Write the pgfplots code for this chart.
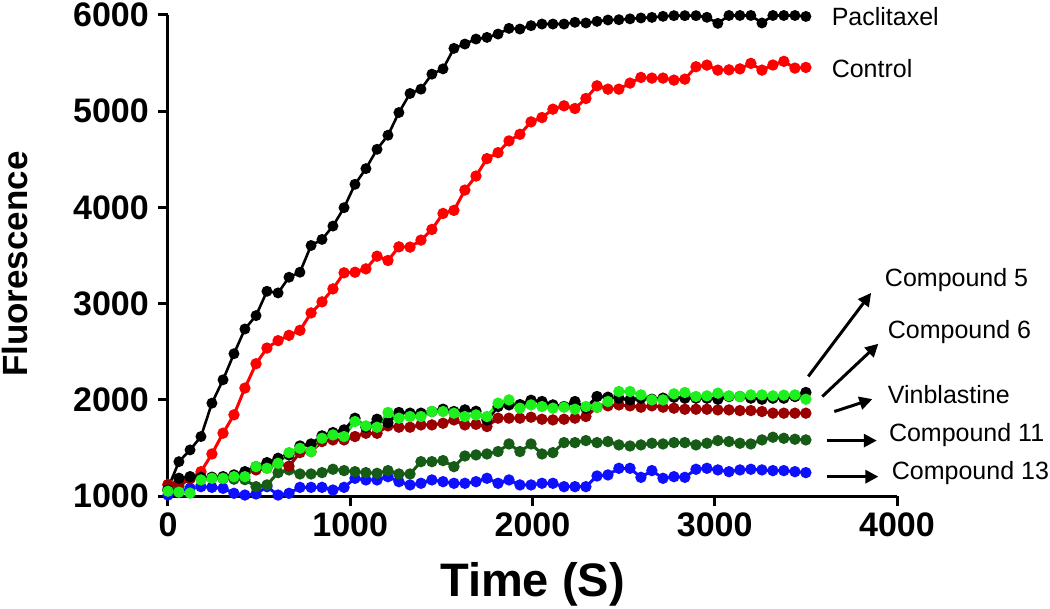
\documentclass[border=0pt]{standalone}
\usepackage{fontspec}
\setmainfont{Liberation Sans}
\usepackage{pgfplots}
\usepackage{pgfplotstable}
\pgfplotsset{compat=1.18}
\usetikzlibrary{arrows.meta}
\definecolor{vinred}{RGB}{155,0,0}
\definecolor{cgreen}{RGB}{30,240,30}
\definecolor{dgreen}{RGB}{22,92,22}
\definecolor{cblue}{RGB}{15,15,255}
\definecolor{cred}{RGB}{255,0,0}

\pgfplotstableread{
t pac ctl c5 c6 vin c11 c13
0 1080 1120 1060 1050 1115 1060 1010
60 1357 1150 1184 1040 1130 1100 1040
121 1479 1180 1201 1030 1180 1184 1080
181 1618 1253 1194 1167 1190 1184 1097
241 1965 1437 1194 1184 1190 1194 1090
302 2208 1653 1201 1184 1190 1180 1080
362 2479 1844 1219 1201 1200 1175 1028
422 2736 2122 1253 1201 1236 1170 1010
483 2875 2375 1305 1305 1271 1097 1021
543 3128 2538 1347 1288 1290 1115 1097
604 3111 2615 1392 1340 1340 1243 1010
664 3274 2670 1427 1451 1310 1271 1028
724 3326 2722 1520 1496 1451 1229 1090
785 3604 2903 1541 1462 1462 1229 1090
845 3667 3018 1625 1600 1566 1243 1090
905 3806 3153 1659 1635 1583 1278 1062
966 3997 3320 1687 1618 1583 1264 1090
1026 4240 3326 1808 1774 1618 1253 1184
1086 4403 3361 1715 1729 1652 1243 1167
1147 4604 3493 1798 1715 1652 1236 1167
1207 4750 3448 1763 1868 1729 1264 1201
1267 4986 3590 1868 1809 1715 1229 1149
1328 5184 3587 1861 1826 1715 1229 1115
1388 5229 3660 1861 1826 1739 1357 1132
1448 5385 3771 1878 1878 1739 1357 1167
1509 5440 3937 1902 1878 1756 1368 1149
1569 5653 3969 1878 1861 1791 1305 1132
1629 5698 4180 1895 1826 1739 1416 1132
1690 5750 4326 1880 1843 1745 1427 1149
1750 5767 4507 1791 1826 1722 1437 1184
1811 5802 4569 1930 1965 1809 1462 1132
1871 5861 4691 1947 1999 1809 1541 1167
1931 5854 4760 1950 1913 1809 1462 1115
1992 5889 4889 1995 1947 1819 1541 1115
2052 5906 4934 1982 1930 1798 1437 1132
2112 5906 5021 1947 1913 1791 1451 1132
2173 5906 5056 1930 1923 1798 1555 1097
2233 5924 5028 1982 1902 1809 1555 1097
2293 5917 5132 1913 1930 1826 1576 1097
2354 5934 5264 2034 1923 1923 1555 1208
2414 5948 5229 2027 1982 1937 1566 1219
2474 5951 5229 2017 2086 1947 1531 1288
2535 5960 5292 1999 2086 1937 1520 1288
2595 5969 5351 2017 2051 1923 1531 1194
2655 5975 5344 2006 1999 1937 1548 1264
2716 5986 5344 2017 1999 1923 1541 1184
2776 5993 5323 2027 2062 1913 1555 1201
2836 5993 5333 2017 2076 1902 1555 1194
2897 5993 5462 2017 2034 1902 1531 1278
2957 5976 5479 2017 2041 1902 1548 1288
3017 5913 5427 2006 2069 1895 1576 1271
3078 5995 5430 2034 2041 1895 1566 1253
3138 5995 5440 2034 2034 1888 1548 1271
3198 5995 5497 2017 2051 1888 1541 1278
3259 5917 5427 2006 2051 1878 1583 1271
3319 5995 5480 2017 2041 1861 1611 1264
3379 5995 5518 2017 2048 1861 1600 1264
3440 5995 5448 2034 2051 1861 1590 1253
3500 5985 5455 2076 2006 1861 1583 1243
}\data

\begin{document}
\begin{tikzpicture}
\useasboundingbox (-168bp,-113bp) rectangle (882bp,496bp);
\begin{axis}[
  scale only axis,
  width=729bp, height=481bp,
  xmin=0, xmax=4000, ymin=1000, ymax=6000,
  xtick={0,1000,2000,3000,4000},
  ytick={1000,2000,3000,4000,5000,6000},
  axis x line*=bottom, axis y line*=left,
  axis line style={line width=3bp, black, -},
  tick align=outside,
  major tick length=10bp,
  tick style={line width=3bp, black},
  scaled ticks=false,
  /pgf/number format/assume math mode=true,
  /pgf/number format/1000 sep={},
  ticklabel style={font=\bfseries\fontsize{34bp}{34bp}\selectfont, inner sep=0pt},
  yticklabel style={xshift=-9bp},
  xticklabel style={yshift=-7bp},
  xlabel={Time (S)},
  ylabel={Fluorescence},
  xlabel style={font=\bfseries\fontsize{47bp}{47bp}\selectfont, at={(axis description cs:0.5,-0.183)}, anchor=center},
  ylabel style={font=\bfseries\fontsize{35bp}{35bp}\selectfont, at={(axis description cs:-0.21,0.482)}, anchor=center},
  clip=false,
  every axis plot/.append style={line width=3bp, mark=*, mark size=4.1bp},
]
\addplot[black, line width=2.6bp, mark options={black}] table[x=t, y=pac] {\data};
\addplot[cred, mark options={cred}] table[x=t, y=ctl] {\data};
\addplot[cblue, mark options={cblue}] table[x=t, y=c13] {\data};
\addplot[dgreen, mark options={dgreen}] table[x=t, y=c11] {\data};
\addplot[vinred, mark options={vinred}] table[x=t, y=vin] {\data};
\addplot[black, mark options={black}] table[x=t, y=c5] {\data};
\addplot[cgreen, mark options={cgreen}] table[x=t, y=c6] {\data};

\begin{scope}[font=\fontsize{25bp}{30bp}\selectfont]
\node[anchor=west, inner sep=0pt] at (axis cs:3641,5979) {Paclitaxel};
\node[anchor=west, inner sep=0pt] at (axis cs:3641,5438) {Control};
\node[anchor=west, inner sep=0pt] at (axis cs:3933,3240) {Compound 5};
\node[anchor=west, inner sep=0pt] at (axis cs:3949,2708) {Compound 6};
\node[anchor=west, inner sep=0pt] at (axis cs:3949,2052) {Vinblastine};
\node[anchor=west, inner sep=0pt] at (axis cs:3955,1635) {Compound 11};
\node[anchor=west, inner sep=0pt] at (axis cs:3971,1240) {Compound 13};
\end{scope}
\begin{scope}[line width=3bp, -{Triangle[length=13bp,width=13bp]}]
\draw (axis cs:3513,2243) -- (axis cs:3858,3111);
\draw (axis cs:3590,2034) -- (axis cs:3898,2583);
\draw (axis cs:3656,1878) -- (axis cs:3865,2007);
\draw (axis cs:3614,1576) -- (axis cs:3889,1576);
\draw (axis cs:3614,1201) -- (axis cs:3898,1201);
\end{scope}
\end{axis}
\end{tikzpicture}
\end{document}
